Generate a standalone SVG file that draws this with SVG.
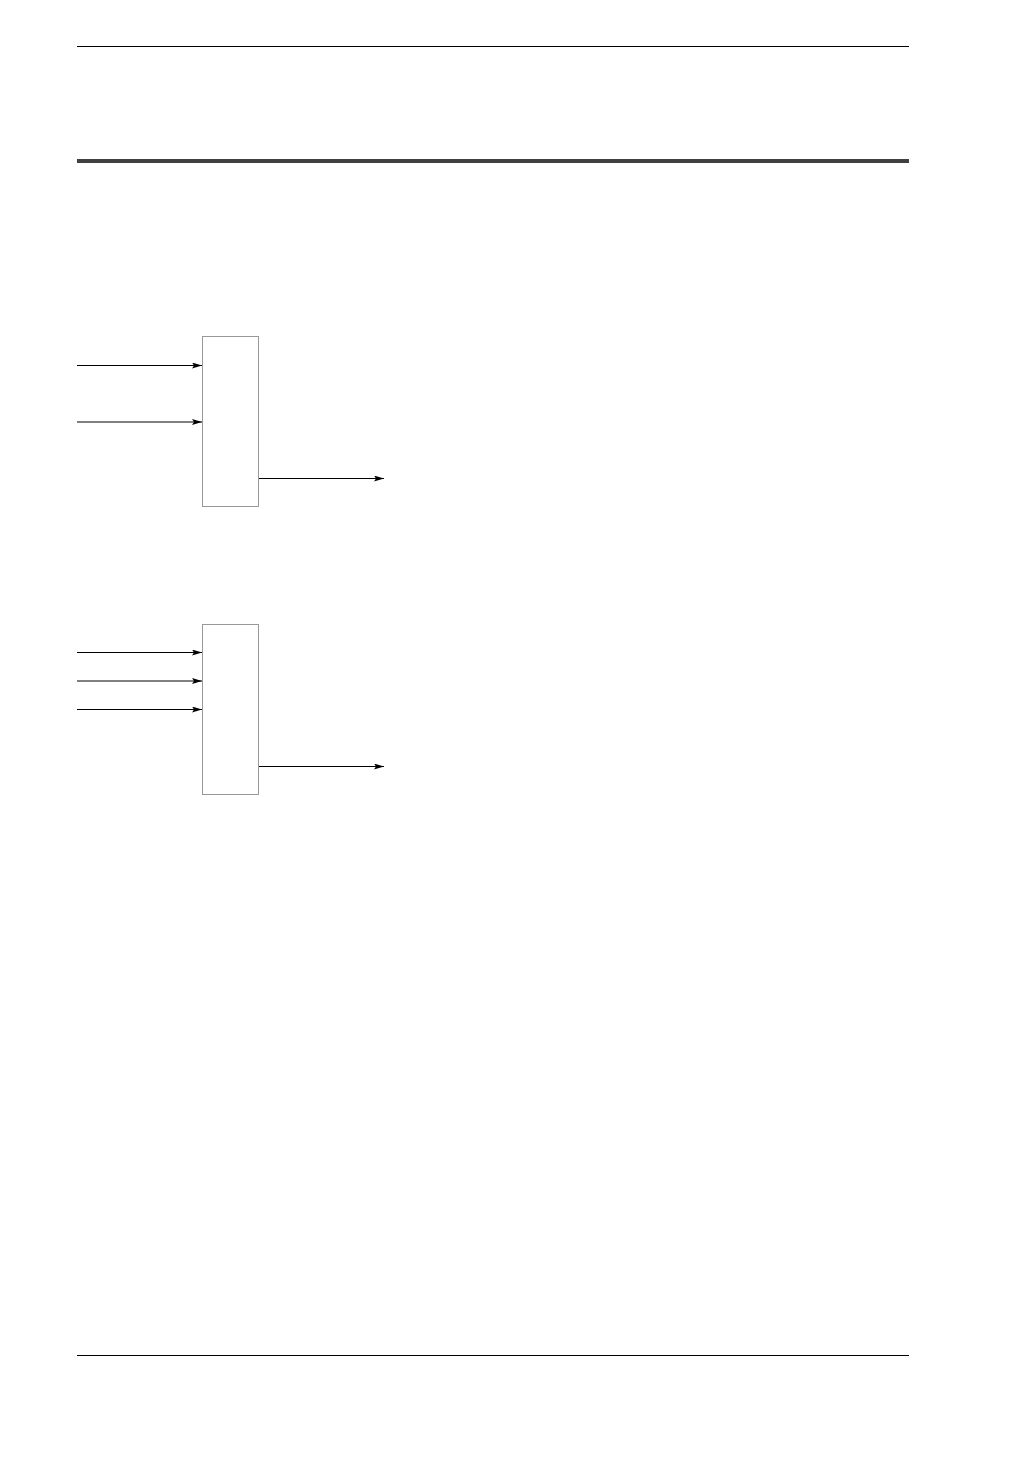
<svg xmlns="http://www.w3.org/2000/svg" width="1032" height="1458" viewBox="0 0 1032 1458">
  <style>
    .rule { stroke: #000; stroke-width: 1.2; }
    .box { fill: #fff; stroke: #999; stroke-width: 1; }
    .wire { stroke: #000; stroke-width: 1; fill: none; marker-end: url(#arrow); }
  </style>
  <defs>
    <marker id="arrow" viewBox="0 0 10 6" refX="10" refY="3" markerWidth="10" markerHeight="6" markerUnits="userSpaceOnUse" orient="auto">
      <path d="M0,0 L10,3 L0,6 L2,3 Z" fill="#000"/>
    </marker>
  </defs>
  <rect width="1032" height="1458" fill="#fff"/>
  <g id="page-rules">
    <line class="rule" x1="77" y1="46.5" x2="909" y2="46.5"/>
    <rect x="77" y="159" width="832" height="4" fill="#404040"/>
    <line class="rule" x1="77" y1="1355.5" x2="909" y2="1355.5"/>
  </g>
  <g id="block1">
    <rect class="box" x="202.5" y="336.5" width="56" height="170"/>
  </g>
  <g id="block2">
    <rect class="box" x="202.5" y="624.5" width="56" height="170"/>
  </g>
  <g id="connectors">
    <line class="wire" x1="77" y1="365.5" x2="202" y2="365.5"/>
    <line class="wire" x1="77" y1="422" x2="202" y2="422"/>
    <line class="wire" x1="259" y1="478.5" x2="384" y2="478.5"/>
    <line class="wire" x1="77" y1="652.5" x2="202" y2="652.5"/>
    <line class="wire" x1="77" y1="681" x2="202" y2="681"/>
    <line class="wire" x1="77" y1="709.5" x2="202" y2="709.5"/>
    <line class="wire" x1="259" y1="766.5" x2="384" y2="766.5"/>
  </g>
</svg>
